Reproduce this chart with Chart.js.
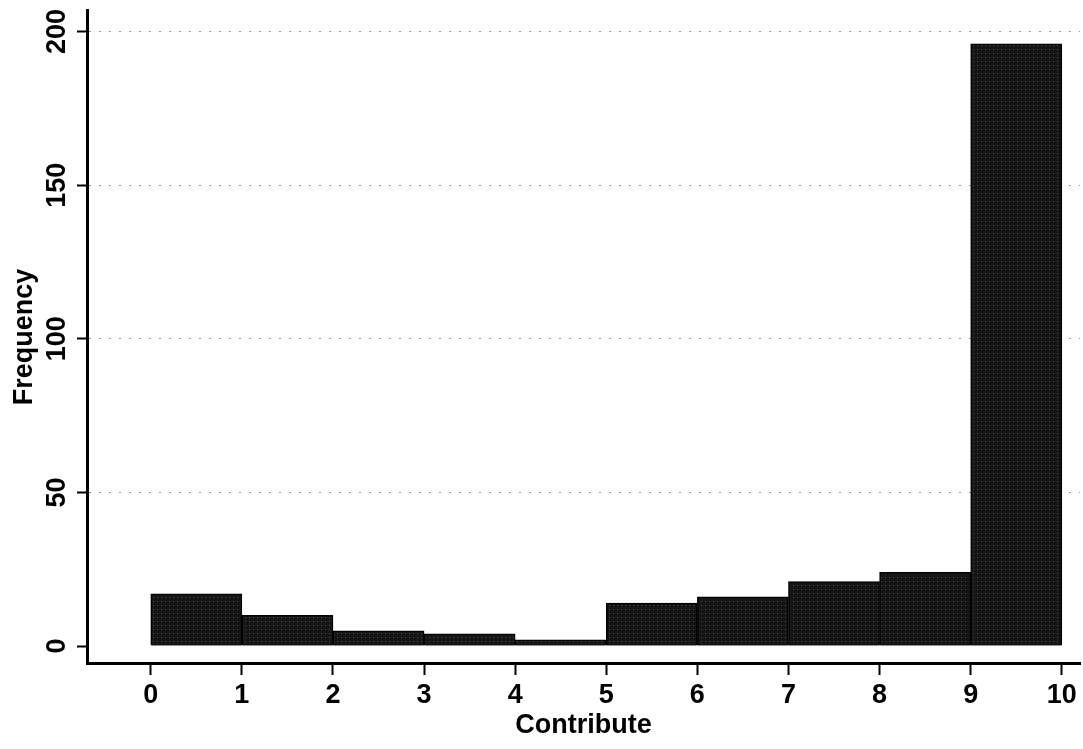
<!DOCTYPE html>
<html lang="en">
<head>
  <meta charset="UTF-8">
  <title>Contribute histogram</title>
  <script src="https://cdn.jsdelivr.net/npm/chart.js"></script>
  <style>
    body {
      margin: 0;
      background: #fff;
    }
    #wrap {
      width: 1083px;
      height: 749px;
    }
  </style>
</head>
<body>

<div id="wrap"><canvas id="histCvs" width="1083" height="749"></canvas></div>

<script>
// bins of the histogram (left edges) and their counts
const binStarts = [0, 1, 2, 3, 4, 5, 6, 7, 8, 9];
const frequencies = [17, 10, 5, 4, 2, 14, 16, 21, 24, 196];
const xTicks = [0, 1, 2, 3, 4, 5, 6, 7, 8, 9, 10];
const yTicks = [0, 50, 100, 150, 200];

(() => {
  const FONT = 'Liberation Sans, Arial, Helvetica, sans-serif';

  // dark speckled fill like the scanned bars
  const pc = document.createElement('canvas');
  pc.width = 4; pc.height = 4;
  const p = pc.getContext('2d');
  p.fillStyle = '#161616';
  p.fillRect(0, 0, 4, 4);
  p.fillStyle = '#4a4a4a';
  p.fillRect(1, 1, 1, 1);
  const barFill = p.createPattern(pc, 'repeat');

  // y tick labels and title drawn rotated (reading bottom to top)
  const yLabels = {
    id: 'yLabels',
    afterDraw(chart) {
      const ctx = chart.ctx;
      const y = chart.scales.y;
      ctx.save();
      ctx.fillStyle = '#000';
      ctx.textAlign = 'center';
      ctx.textBaseline = 'middle';
      ctx.font = 'bold 27px ' + FONT;
      yTicks.forEach(v => {
        ctx.save();
        ctx.translate(58, y.getPixelForValue(v));
        ctx.rotate(-Math.PI / 2);
        ctx.fillText(String(v), 0, 0);
        ctx.restore();
      });
      ctx.translate(25, 337);
      ctx.rotate(-Math.PI / 2);
      ctx.fillText('Frequency', 0, 0);
      ctx.restore();
    }
  };

  new Chart(document.getElementById('histCvs'), {
    type: 'bar',
    data: {
      datasets: [{
        label: 'Frequency',
        data: binStarts.map((s, i) => ({ x: s + 0.5, y: frequencies[i] })),
        backgroundColor: barFill,
        borderColor: '#000',
        borderWidth: 1.5,
        barPercentage: 1,
        categoryPercentage: 1
      }]
    },
    options: {
      responsive: false,
      animation: false,
      layout: { padding: { top: 10, right: 3, left: 0, bottom: 0 } },
      plugins: {
        legend: { display: false },
        tooltip: { enabled: false }
      },
      scales: {
        x: {
          type: 'linear',
          offset: false,
          min: -0.7,
          max: 10.2,
          afterBuildTicks: s => { s.ticks = xTicks.map(v => ({ value: v })); },
          afterFit: s => { s.height = 86; },
          border: { color: '#000', width: 3 },
          grid: {
            offset: false,
            drawOnChartArea: false,
            tickLength: 12,
            tickColor: '#000',
            tickWidth: 2
          },
          ticks: {
            color: '#000',
            padding: 4,
            maxRotation: 0,
            font: { family: FONT, size: 27, weight: 'bold' }
          },
          title: {
            display: true,
            text: 'Contribute',
            color: '#000',
            padding: { top: -6, bottom: 7 },
            font: { family: FONT, size: 27, weight: 'bold' }
          }
        },
        y: {
          min: -5.5,
          max: 207,
          afterBuildTicks: s => { s.ticks = yTicks.map(v => ({ value: v })); },
          afterFit: s => { s.width = 87; },
          border: { color: '#000', width: 3, dash: [2, 8] },
          grid: {
            color: c => (c.tick && c.tick.value === 0) ? 'rgba(0,0,0,0)' : '#9a9a9a',
            lineWidth: 1,
            tickBorderDash: [],
            tickLength: 10,
            tickColor: '#000',
            tickWidth: 2
          },
          ticks: { display: false }
        }
      }
    },
    plugins: [yLabels]
  });
})();
</script>

</body>
</html>
